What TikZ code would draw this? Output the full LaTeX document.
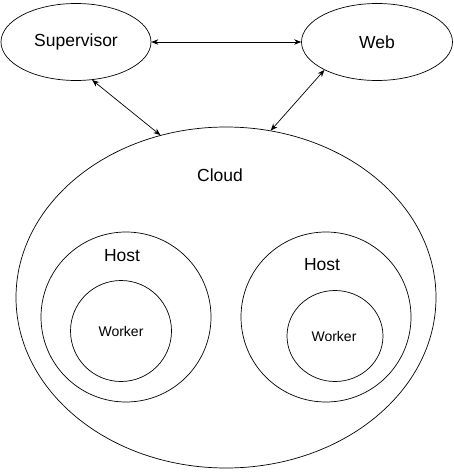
\documentclass[tikz,border=0pt]{standalone}
\usepackage{fontspec}
\setmainfont{Liberation Sans}
\usetikzlibrary{arrows.meta,shapes.geometric}

\begin{document}
\begin{tikzpicture}[
  x=1pt,y=-1pt,
  blob/.style={ellipse,draw=black,line width=0.7pt,inner sep=0pt},
  bigtext/.style={font=\fontsize{17.5}{20}\selectfont},
  smalltext/.style={font=\fontsize{14}{16}\selectfont},
  arrow/.style={{Stealth[length=7pt,width=5.5pt]}-{Stealth[length=7pt,width=5.5pt]},line width=0.7pt}
]
\useasboundingbox (0,0) rectangle (453,473);

\node[blob,bigtext,minimum width=150,minimum height=77] (super) at (76,42) {Supervisor};
\node[blob,bigtext,minimum width=151,minimum height=77] (web) at (377,42) {Web};
\node[blob,minimum width=420,minimum height=341] (cloud) at (226,297.5) {};
\node[blob,minimum width=170,minimum height=170] (hostA) at (126,317) {};
\node[blob,minimum width=170,minimum height=170] (hostB) at (326,317) {};
\node[blob,minimum width=101,minimum height=101] (workA) at (121,331) {};
\node[blob,minimum width=96,minimum height=91] (workB) at (335,336) {};

% labels sit off centre inside the rings
\node[bigtext] (cloudlbl) at (220,175) {Cloud};
\node[bigtext] (hostAlbl) at (122,256) {Host};
\node[bigtext] (hostBlbl) at (322,265) {Host};
\node[smalltext] (workAlbl) at (121,331) {Worker};
\node[smalltext] (workBlbl) at (334,336) {Worker};

\draw[arrow] (super.east) -- (web.west);
\draw[arrow] (super.-67.5) -- (cloud.112.7);
\draw[arrow] (web.208) -- (cloud.75.2);
\end{tikzpicture}
\end{document}
